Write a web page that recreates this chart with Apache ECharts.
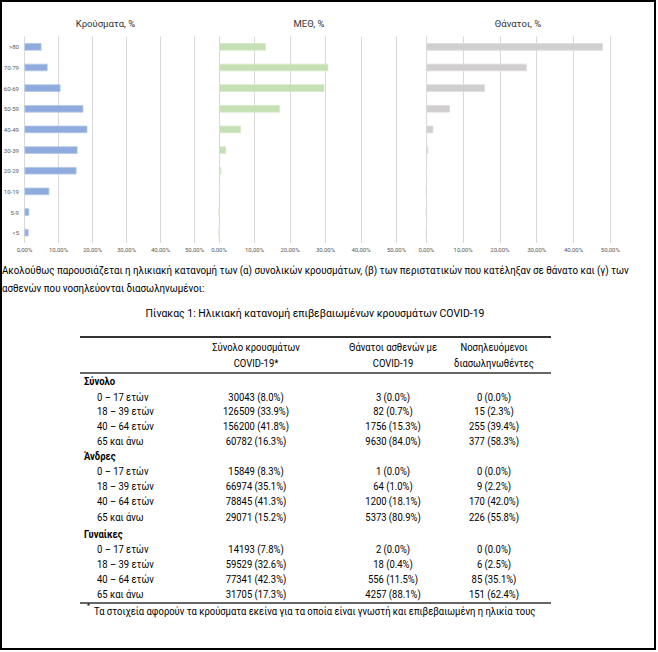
<!DOCTYPE html>
<html><head><meta charset="utf-8">
<script src="https://cdn.jsdelivr.net/npm/echarts@6/dist/echarts.min.js"></script>
<style>html,body{margin:0;padding:0;background:#fff}#c{width:658px;height:652px}</style>
</head><body><div id="c"></div>
<script>
// ---- chart data ----
const ageGroups = ['<5','5-9','10-19','20-29','30-39','40-49','50-59','60-69','70-79','>80'];
const casesPct  = [1.2, 1.4, 7.3, 15.3, 15.6, 18.5, 17.3, 10.6, 6.8, 5.0];
const icuPct    = [0, 0, 0.2, 0.65, 2.0, 6.2, 17.2, 29.7, 30.8, 13.2];
const deathsPct = [0, 0, 0, 0.1, 0.5, 1.9, 6.4, 15.9, 27.3, 48.0];
const chartTitles = ['Κρούσματα, %', 'ΜΕΘ, %', 'Θάνατοι, %'];
const xMax = 50, xStep = 10;

// ---- text / table data ----
const introLines = [
  'Ακολούθως παρουσιάζεται η ηλικιακή κατανομή των (α) συνολικών κρουσμάτων, (β) των περιστατικών που κατέληξαν σε θάνατο και (γ) των',
  'ασθενών που νοσηλεύονται διασωληνωμένοι:'
];
const tableTitle = 'Πίνακας 1: Ηλικιακή κατανομή επιβεβαιωμένων κρουσμάτων COVID-19';
const headerLine1 = ['Σύνολο κρουσμάτων', 'Θάνατοι ασθενών με', 'Νοσηλευόμενοι'];
const headerLine2 = ['COVID-19*', 'COVID-19', 'διασωληνωθέντες'];
const groupNames = ['Σύνολο', 'Άνδρες', 'Γυναίκες'];
const rowLabels = ['0 – 17 ετών', '18 – 39 ετών', '40 – 64 ετών', '65 και άνω'];
const totalRows = [
  ['30043 (8.0%)', '3 (0.0%)', '0 (0.0%)'],
  ['126509 (33.9%)', '82 (0.7%)', '15 (2.3%)'],
  ['156200 (41.8%)', '1756 (15.3%)', '255 (39.4%)'],
  ['60782 (16.3%)', '9630 (84.0%)', '377 (58.3%)']
];
const menRows = [
  ['15849 (8.3%)', '1 (0.0%)', '0 (0.0%)'],
  ['66974 (35.1%)', '64 (1.0%)', '9 (2.2%)'],
  ['78845 (41.3%)', '1200 (18.1%)', '170 (42.0%)'],
  ['29071 (15.2%)', '5373 (80.9%)', '226 (55.8%)']
];
const womenRows = [
  ['14193 (7.8%)', '2 (0.0%)', '0 (0.0%)'],
  ['59529 (32.6%)', '18 (0.4%)', '6 (2.5%)'],
  ['77341 (42.3%)', '556 (11.5%)', '85 (35.1%)'],
  ['31705 (17.3%)', '4257 (88.1%)', '151 (62.4%)']
];
const footnote = 'Τα στοιχεία αφορούν τα κρούσματα εκείνα για τα οποία είναι γνωστή και επιβεβαιωμένη η ηλικία τους';

// ---- layout ----
const chart = echarts.init(document.getElementById('c'), null, {renderer: 'svg'});
const TF = 'Roboto, "Noto Sans", sans-serif';
const SX = 0.9; // horizontal squeeze to mimic the narrow document font
const grids = [
  {left: 24.5, top: 36.5, width: 170, height: 206.5},
  {left: 219, top: 36.5, width: 177.5, height: 206.5},
  {left: 426.3, top: 36.5, width: 184, height: 206.5}
];
const colors = ['#8FAADC', '#C5E0B4', '#D0CECE'];
const borders = ['#B4C7E7', '#D5E8C8', '#DCDADA'];
const seriesData = [casesPct, icuPct, deathsPct];
const titleX = [105.5, 309, 518];

const pctFmt = v => v.toFixed(2).replace('.', ',') + '%';

const xAxes = grids.map((g, i) => ({
  gridIndex: i, type: 'value', min: 0, max: xMax, interval: xStep,
  axisLine: {show: false}, axisTick: {show: false},
  axisLabel: {formatter: pctFmt, fontSize: 6, color: '#595959', margin: 3.5, fontFamily: TF},
  splitLine: {show: true, lineStyle: {color: '#D9D9D9', width: 1}}
}));
const yAxes = grids.map((g, i) => ({
  gridIndex: i, type: 'category', data: ageGroups,
  axisLine: {show: false}, axisTick: {show: false},
  axisLabel: {show: i === 0, fontSize: 6, color: '#595959', margin: 5.5, fontFamily: TF}
}));
const series = grids.map((g, i) => ({
  type: 'bar', xAxisIndex: i, yAxisIndex: i, data: seriesData[i], barWidth: 7.5,
  itemStyle: {color: colors[i], borderColor: borders[i], borderWidth: 0.8},
  silent: true
}));

const graphics = [];
const txt = (x, y, text, opt) => graphics.push(Object.assign({type: 'text', x, y, scaleX: (opt && opt.sx) || SX,
  style: Object.assign({text, fontSize: 10.5, fontFamily: TF, fill: '#000', align: 'left', verticalAlign: 'middle'}, (opt && opt.style) || {})}));
// outer frame
graphics.push({type: 'rect', shape: {x: 1, y: 1, width: 654, height: 648},
  style: {fill: 'none', stroke: '#000', lineWidth: 2}, silent: true});
// chart titles
chartTitles.forEach((t, i) => txt(titleX[i], 23, t, {sx: 1, style: {fontSize: 9.5, fill: '#333', align: 'center'}}));
// intro paragraph
const introY = [270, 288];
introLines.forEach((t, i) => txt(2, introY[i], t, {sx: 0.93}));
// table title
txt(315, 313, tableTitle, {sx: 0.91, style: {fontSize: 11.5, align: 'center'}});
// table
const tL = 80, tR = 551;
const colX = [256, 393, 494];
const line = (y, w) => graphics.push({type: 'line', shape: {x1: tL, y1: y, x2: tR, y2: y},
  style: {stroke: '#333', lineWidth: w}});
line(337, 2);
line(373, 1.5);
line(603, 1.5);
headerLine1.forEach((t, i) => txt(colX[i], 347, t, {style: {align: 'center'}}));
headerLine2.forEach((t, i) => txt(colX[i], 363, t, {style: {align: 'center'}}));
const groupRows = [totalRows, menRows, womenRows];
const groupY = [381, 456, 534];
const rowYs = [[397, 411, 426, 441], [471, 486, 501, 517], [549, 564, 579, 594]];
groupNames.forEach((gname, gi) => {
  txt(84, groupY[gi], gname, {style: {fontWeight: 'bold'}});
  rowLabels.forEach((rl, ri) => {
    const y = rowYs[gi][ri];
    txt(97, y, rl);
    groupRows[gi][ri].forEach((cell, ci) => txt(colX[ci], y, cell, {style: {align: 'center'}}));
  });
});
// footnote
txt(87, 606, '*', {sx: 1, style: {fontSize: 7}});
txt(94, 611, footnote);

chart.setOption({
  animation: false,
  backgroundColor: '#fff',
  grid: grids.map(g => Object.assign({containLabel: false}, g)),
  xAxis: xAxes,
  yAxis: yAxes,
  series,
  graphic: graphics
});
</script></body></html>
